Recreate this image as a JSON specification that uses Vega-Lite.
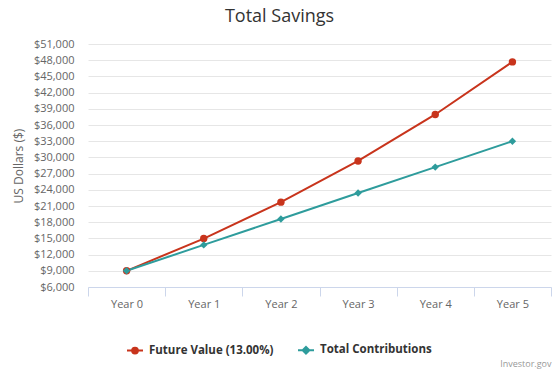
{
  "$schema": "https://vega.github.io/schema/vega-lite/v6.json",
  "width": 463,
  "height": 243,
  "autosize": {"type": "none"},
  "padding": {"left": 88, "top": 44, "right": 9, "bottom": 86},
  "background": "white",
  "config": {"font": "Open Sans", "view": {"stroke": null}},
  "title": {"text": "Total Savings", "fontSize": 18, "fontWeight": "normal", "color": "#333333", "anchor": "middle", "dx": -40, "offset": 12},
  "data": {"values": [
    {"year": "Year 0", "series": "Future Value (13.00%)", "value": 9000},
    {"year": "Year 1", "series": "Future Value (13.00%)", "value": 14970},
    {"year": "Year 2", "series": "Future Value (13.00%)", "value": 21716},
    {"year": "Year 3", "series": "Future Value (13.00%)", "value": 29339},
    {"year": "Year 4", "series": "Future Value (13.00%)", "value": 37953},
    {"year": "Year 5", "series": "Future Value (13.00%)", "value": 47687},
    {"year": "Year 0", "series": "Total Contributions", "value": 9000},
    {"year": "Year 1", "series": "Total Contributions", "value": 13800},
    {"year": "Year 2", "series": "Total Contributions", "value": 18600},
    {"year": "Year 3", "series": "Total Contributions", "value": 23400},
    {"year": "Year 4", "series": "Total Contributions", "value": 28200},
    {"year": "Year 5", "series": "Total Contributions", "value": 33000}
  ]},
  "encoding": {
    "x": {
      "field": "year", "type": "ordinal", "sort": null,
      "scale": {"type": "band", "paddingInner": 0, "paddingOuter": 0},
      "axis": {
        "title": "Investor.gov", "titleFontSize": 9, "titleColor": "#999999", "titleFontWeight": "normal",
        "titleAnchor": "end", "titleAlign": "right", "titleX": 463, "titleY": 79, "titleBaseline": "alphabetic",
        "labelAngle": 0, "labelFontSize": 11, "labelColor": "#666666", "labelPadding": 2,
        "tickBand": "extent", "tickSize": 9, "tickColor": "#ccd6eb", "domainColor": "#ccd6eb", "grid": false
      }
    },
    "y": {
      "field": "value", "type": "quantitative",
      "scale": {"domain": [6000, 51000], "nice": false, "zero": false},
      "axis": {
        "title": "US Dollars ($)", "titleFontSize": 12, "titleFontWeight": "normal", "titleColor": "#666666", "titlePadding": 8,
        "values": [6000, 9000, 12000, 15000, 18000, 21000, 24000, 27000, 30000, 33000, 36000, 39000, 42000, 45000, 48000, 51000],
        "format": "$,.0f", "labelFontSize": 11, "labelColor": "#666666", "labelPadding": 14,
        "domain": false, "ticks": false, "gridColor": "#e6e6e6"
      }
    },
    "color": {
      "field": "series", "type": "nominal",
      "scale": {"domain": ["Future Value (13.00%)", "Total Contributions"], "range": ["#c8341c", "#2e9c9c"]},
      "legend": {
        "title": null, "orient": "none", "direction": "horizontal", "legendX": 38, "legendY": 297,
        "labelFontSize": 11.5, "labelFontWeight": "bold", "labelColor": "#333333", "labelOffset": 5,
        "columnPadding": 20, "symbolSize": 256, "symbolStrokeWidth": 2,
        "symbolType": "M-1,0L1,0",
        "encode": {"symbols": {"update": {
          "shape": {"signal": "datum.value === 'Total Contributions' ? 'M-1,0L1,0M0,-0.42L0.42,0L0,0.42L-0.42,0Z' : 'M-1,0L1,0M-0.36,0A0.36,0.36,0,1,1,0.36,0A0.36,0.36,0,1,1,-0.36,0Z'"},
          "stroke": {"signal": "datum.value === 'Total Contributions' ? '#2e9c9c' : '#c8341c'"},
          "fill": {"signal": "datum.value === 'Total Contributions' ? '#2e9c9c' : '#c8341c'"},
          "strokeWidth": {"value": 2}
        }}}
      }
    }
  },
  "layer": [
    {"mark": {"type": "line", "strokeWidth": 2}},
    {
      "transform": [{"filter": "datum.series === 'Future Value (13.00%)'"}],
      "mark": {"type": "point", "shape": "circle", "filled": true, "opacity": 1, "size": 55}
    },
    {
      "transform": [{"filter": "datum.series === 'Total Contributions'"}],
      "mark": {"type": "point", "shape": "diamond", "filled": true, "opacity": 1, "size": 55}
    }
  ]
}
